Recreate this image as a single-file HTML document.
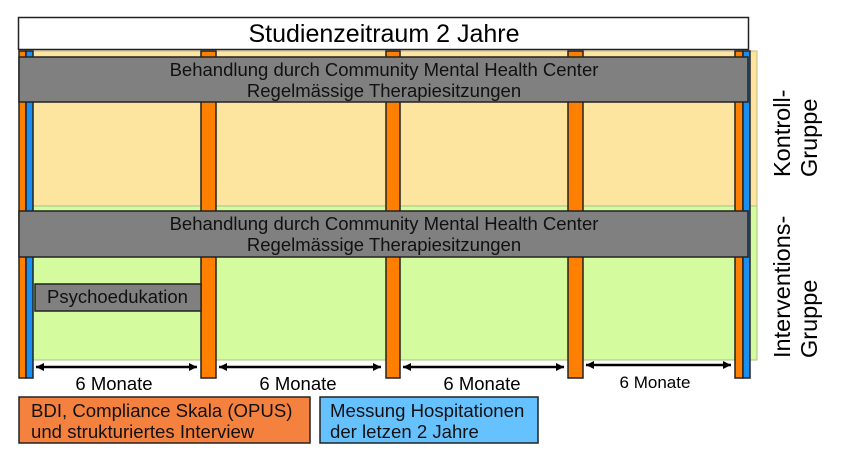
<!DOCTYPE html>
<html><head><meta charset="utf-8"><style>
html,body{margin:0;padding:0;background:#fff;}
svg{display:block;font-family:"Liberation Sans",Arial,sans-serif;}
</style></head><body>
<svg width="850" height="462" viewBox="0 0 850 462" xmlns="http://www.w3.org/2000/svg">
<defs>
<marker id="ah" viewBox="0 0 10 10" refX="10" refY="5" markerWidth="10" markerHeight="8" orient="auto-start-reverse" markerUnits="userSpaceOnUse">
<path d="M0,0 L10,5 L0,10 z" fill="#000"/></marker>
</defs>
<rect x="20" y="51" width="737" height="156" fill="#fde5a0" stroke="#c9b987" stroke-width="1"/>
<rect x="20" y="206" width="737" height="154" fill="#d4fb9e" stroke="#a9c08a" stroke-width="1"/>
<rect x="18.5" y="17.5" width="730" height="32" fill="#fff" stroke="#222" stroke-width="1.5"/>
<text x="384" y="42" font-size="25" text-anchor="middle" fill="#000">Studienzeitraum 2 Jahre</text>
<g stroke="#222" stroke-width="1.5">
<rect x="19" y="51" width="7" height="327" fill="#ff8000"/>
<rect x="26" y="51" width="7" height="327" fill="#1a8ff0"/>
<rect x="201" y="51" width="15" height="327" fill="#ff8000"/>
<rect x="386" y="51" width="14" height="327" fill="#ff8000"/>
<rect x="568" y="51" width="15" height="327" fill="#ff8000"/>
<rect x="735" y="51" width="8" height="327" fill="#ff8000"/>
<rect x="743" y="51" width="7" height="327" fill="#1a8ff0"/>
</g>
<rect x="19" y="57" width="729" height="45" fill="#808080" stroke="#222" stroke-width="1.5"/>
<text x="384" y="76" font-size="18.5" text-anchor="middle" fill="#111">Behandlung durch Community Mental Health Center</text>
<text x="384" y="97" font-size="18.5" text-anchor="middle" fill="#111">Regelmässige Therapiesitzungen</text>
<rect x="19" y="211" width="729" height="46" fill="#808080" stroke="#222" stroke-width="1.5"/>
<text x="384" y="230" font-size="18.5" text-anchor="middle" fill="#111">Behandlung durch Community Mental Health Center</text>
<text x="384" y="251" font-size="18.5" text-anchor="middle" fill="#111">Regelmässige Therapiesitzungen</text>
<rect x="35" y="284" width="166" height="27" fill="#808080" stroke="#222" stroke-width="1.5"/>
<text x="47" y="303" font-size="18.5" fill="#111">Psychoedukation</text>
<g stroke="#000" stroke-width="2.5">
<line x1="36" y1="367" x2="197" y2="367" marker-start="url(#ah)" marker-end="url(#ah)"/>
<line x1="219" y1="367" x2="381" y2="367" marker-start="url(#ah)" marker-end="url(#ah)"/>
<line x1="403" y1="367" x2="564" y2="367" marker-start="url(#ah)" marker-end="url(#ah)"/>
<line x1="586" y1="365" x2="731" y2="365" marker-start="url(#ah)" marker-end="url(#ah)"/>
</g>
<g font-size="18.5" text-anchor="middle" fill="#000">
<text x="114" y="390">6 Monate</text>
<text x="298" y="390">6 Monate</text>
<text x="482" y="390">6 Monate</text>
<text x="655" y="388" font-size="17">6 Monate</text>
</g>
<rect x="19" y="397" width="291" height="46" fill="#f5813f" stroke="#222" stroke-width="1.5"/>
<text x="31" y="417" font-size="18.6" fill="#111">BDI, Compliance Skala (OPUS)</text>
<text x="31" y="438" font-size="18.6" fill="#111">und strukturiertes Interview</text>
<rect x="320" y="397" width="218" height="46" fill="#66c2ff" stroke="#222" stroke-width="1.5"/>
<text x="330" y="417" font-size="18.6" fill="#111">Messung Hospitationen</text>
<text x="330" y="438" font-size="18.6" fill="#111">der letzen 2 Jahre</text>
<g font-size="23.5" fill="#000">
<text transform="translate(790,177) rotate(-90)">Kontroll-</text>
<text transform="translate(817,177) rotate(-90)">Gruppe</text>
<text transform="translate(790,358) rotate(-90)">Interventions-</text>
<text transform="translate(817,358) rotate(-90)">Gruppe</text>
</g>
</svg>
</body></html>
